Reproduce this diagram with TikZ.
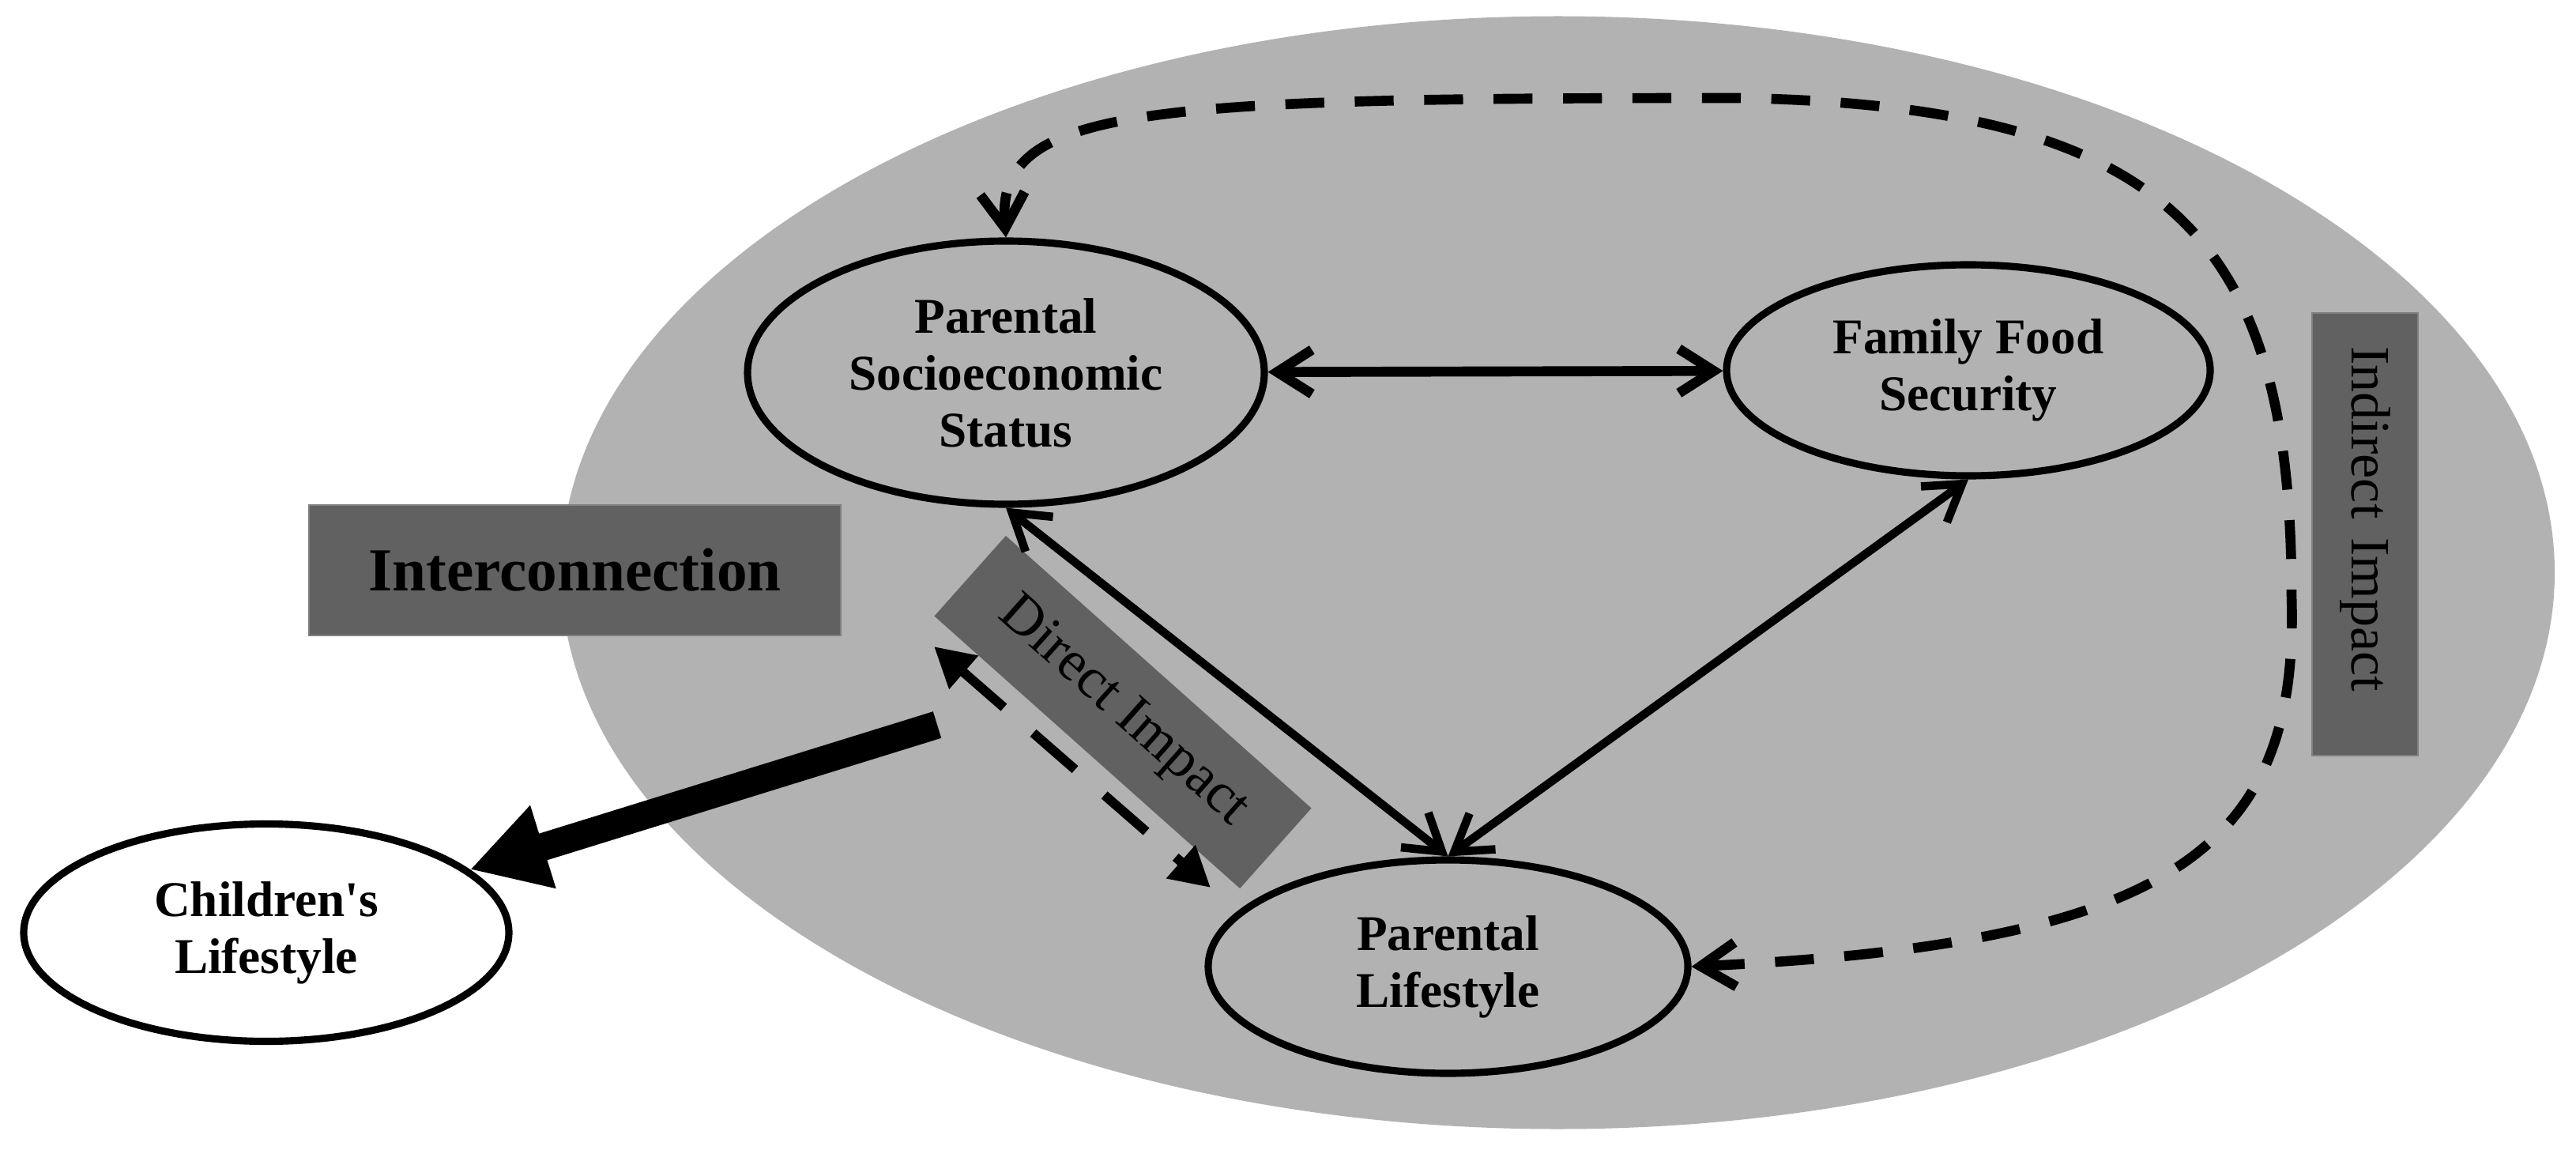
\documentclass[tikz,border=0pt]{standalone}
\usepackage{fontspec}
\setmainfont{Liberation Serif}
\usetikzlibrary{arrows.meta,shapes.geometric}

\begin{document}
\begin{tikzpicture}[
    >={Straight Barb[length=4.4mm,width=5.6mm]},
    factor/.style={ellipse,draw,line width=2.6pt,align=center,inner sep=0pt,font=\fontsize{18}{20.5}\selectfont\bfseries},
    tagbox/.style={fill=black!62,draw=black!50,line width=0.6pt,inner sep=0pt},
    link/.style={line width=3pt,<->},
    dashlink/.style={line width=3.6pt,dash pattern=on 14pt off 11pt,<->},
    directlink/.style={line width=3.4pt,dash pattern=on 20pt off 14pt,{Triangle[length=5mm,width=5.3mm]}-{Triangle[length=5mm,width=5.3mm]}},
    pushlink/.style={line width=10pt,-{Triangle[length=9.7mm,width=10.3mm]}}]
            \useasboundingbox (0,0) rectangle (32.6,14.54);
            \fill[black!30] (19.715,7.295) ellipse [x radius=12.615, y radius=7.04];
            \node[tagbox,minimum width=6.73cm,minimum height=1.65cm,font=\fontsize{22}{26}\selectfont\bfseries] (inter) at (7.275,7.325) {Interconnection};
            \node[tagbox,draw=none,rotate=-41.7,minimum width=5.18cm,minimum height=1.36cm,font=\fontsize{20.5}{24}\selectfont] (direct) at (14.21,5.53) {Direct Impact};
            \node[tagbox,rotate=-90,inner xsep=0.42cm,text width=4.76cm,align=left,minimum height=1.34cm,font=\fontsize{20}{24}\selectfont] (indirect) at (29.93,7.78) {Indirect Impact};
            \node[factor,minimum width=6.54cm,minimum height=3.33cm] (pses) at (12.73,9.825) {Parental\\Socioeconomic\\Status};
            \node[factor,minimum width=6.12cm,minimum height=2.67cm] (ffs) at (24.91,9.855) {Family Food\\Security};
            \node[factor,minimum width=6.07cm,minimum height=2.70cm] (pl) at (18.325,2.31) {Parental\\Lifestyle};
            \node[factor,fill=white,minimum width=6.14cm,minimum height=2.75cm] (kids) at (3.37,2.74) {Children\textquotesingle s\\Lifestyle};
            \coordinate (dtop) at (11.82,6.36);
            \coordinate (dbot) at (15.32,3.31);
            \coordinate (push) at (11.86,5.37);
            \draw[link,line width=3.6pt] (pses) -- (ffs);
            \draw[link] (pses.south) -- (pl.north);
            \draw[link] (pl.north) -- (ffs.south);
            \draw[directlink] (dtop) -- (dbot);
            \draw[pushlink] (push) -- (kids);
            \draw[dashlink] (pl.east) .. controls (27.5,2.6) and (29.1,3.8) .. (29.0,7.0)
                .. controls (29.0,11.5) and (27.5,13.2) .. (22.0,13.3)
                .. controls (14.5,13.3) and (12.6,13.2) .. (pses.north);
\end{tikzpicture}
\end{document}
